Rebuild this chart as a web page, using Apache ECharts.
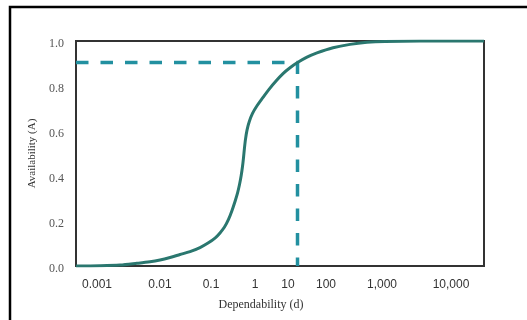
<!DOCTYPE html>
<html>
<head>
<meta charset="utf-8">
<script src="https://cdn.jsdelivr.net/npm/echarts@6/dist/echarts.min.js"></script>
<style>
html,body{margin:0;padding:0;background:#fff;}
#chart{width:527px;height:320px;}
</style>
</head>
<body>
<div id="chart"></div>
<script>
// Dependability (d) values and corresponding Availability (A)
var dependability = [0.000724, 0.00203, 0.00481, 0.0100, 0.0175, 0.0269, 0.0414, 0.0636, 0.0979, 0.1506, 0.2125, 0.287, 0.356, 0.432, 0.513, 0.597, 0.679, 0.756, 0.824, 0.886, 0.937, 0.979, 1.017, 1.067, 1.138, 1.256, 1.442, 1.750, 2.265, 2.934, 3.963, 5.357, 7.244, 10, 15.05, 23.1, 46.1, 95.7, 199, 432, 1950, 30600];
var availability  = [0.0,      0.001,   0.004,   0.012,  0.019,  0.027,  0.038,  0.051,  0.064,  0.082,  0.102,  0.124, 0.147, 0.173, 0.207, 0.247, 0.287, 0.324, 0.362, 0.402, 0.442, 0.482, 0.522, 0.564, 0.604, 0.642, 0.678, 0.712, 0.749, 0.785, 0.822, 0.855, 0.881, 0.904, 0.928, 0.947, 0.970, 0.985, 0.994, 0.998, 1.0, 1.0];

// reference marker (dashed lines)
var markerD = 10;
var markerA = 0.904;

// x axis range and tick labels (as they appear under the axis)
var xMin = 0.000724, xMax = 30600;
var tickLabels  = ['0.001', '0.01', '0.1', '1', '10', '100', '1,000', '10,000'];
var tickAnchors = [0.00179, 0.0269, 0.2415, 1.607, 6.64, 34.1, 379, 7396];

var curve = dependability.map(function (d, i) { return [d, availability[i]]; });
var dashed = [[xMin, markerA], [markerD, markerA], [markerD, 0]];

var chart = echarts.init(document.getElementById('chart'), null, {renderer: 'canvas'});
chart.setOption({
  animation: false,
  backgroundColor: '#fff',
  graphic: [{
    type: 'rect',
    shape: {x: 10, y: 7, width: 700, height: 500},
    style: {fill: 'none', stroke: '#000', lineWidth: 2.5},
    z: -10
  }],
  grid: {left: 76, right: 43, top: 41, bottom: 54, show: true, borderColor: '#333', borderWidth: 2, backgroundColor: 'transparent'},
  xAxis: {
    type: 'log',
    logBase: 10,
    min: xMin,
    max: xMax,
    name: 'Dependability (d)',
    nameLocation: 'middle',
    nameGap: 33,
    nameTextStyle: {fontFamily: 'Liberation Serif', fontSize: 12, color: '#333', padding: [0, 38, 0, 0]},
    axisLine: {show: false},
    axisTick: {show: false},
    splitLine: {show: false},
    axisLabel: {
      customValues: tickAnchors,
      margin: 13,
      fontFamily: 'Liberation Sans',
      fontSize: 12,
      color: '#333',
      formatter: function (v) {
        var best = 0, bd = Infinity;
        for (var i = 0; i < tickAnchors.length; i++) {
          var dd = Math.abs(Math.log10(v) - Math.log10(tickAnchors[i]));
          if (dd < bd) { bd = dd; best = i; }
        }
        return tickLabels[best];
      }
    }
  },
  yAxis: {
    type: 'value',
    min: 0,
    max: 1,
    interval: 0.2,
    name: 'Availability (A)',
    nameLocation: 'middle',
    nameGap: 34,
    nameTextStyle: {fontFamily: 'Liberation Serif', fontSize: 11, color: '#333'},
    axisLine: {show: false},
    axisTick: {show: false},
    splitLine: {show: false},
    axisLabel: {
      margin: 12,
      formatter: function (v) { return '{a|' + v.toFixed(1) + '}'; },
      rich: {
        a: {fontFamily: 'Liberation Serif', fontSize: 12, color: '#555', padding: [6, 0, 0, 0]}
      }
    }
  },
  series: [{
    type: 'line',
    data: dashed,
    showSymbol: false,
    symbol: 'none',
    lineStyle: {color: '#2290a0', width: 3.5, type: [12.5, 12]},
    z: 2
  }, {
    type: 'line',
    data: curve,
    smooth: 0.3,
    showSymbol: false,
    symbol: 'none',
    lineStyle: {color: '#2a776f', width: 3},
    z: 3
  }]
});
</script>
</body>
</html>
